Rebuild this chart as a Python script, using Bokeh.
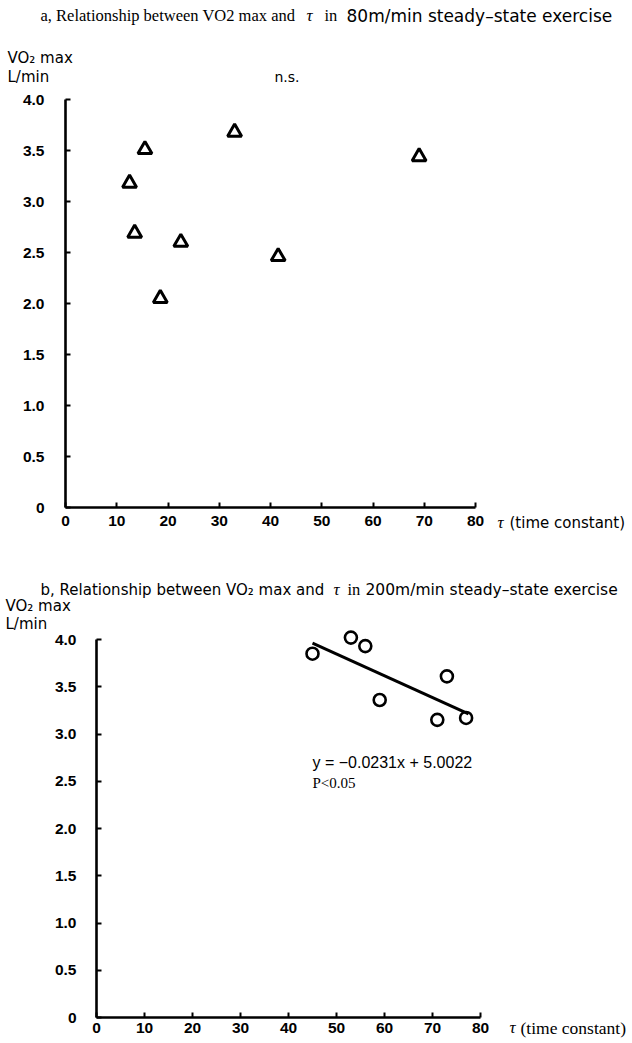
from bokeh.plotting import figure
from bokeh.models import Range1d, FixedTicker, Label, LinearAxis
from bokeh.layouts import column
from bokeh.embed import file_html
from bokeh.resources import INLINE

# ---------------- data ----------------
tau_80 = [12.5, 13.5, 15.5, 18.5, 22.5, 33.0, 41.5, 69.0]
vo2_80 = [3.18, 2.69, 3.51, 2.05, 2.60, 3.68, 2.46, 3.44]

tau_200 = [45.0, 53.0, 56.0, 59.0, 71.0, 73.0, 77.0]
vo2_200 = [3.85, 4.02, 3.93, 3.36, 3.15, 3.61, 3.17]

fit_slope = -0.0231
fit_intercept = 5.0022
fit_x = [45.0, 77.5]

x_ticks = [0, 10, 20, 30, 40, 50, 60, 70, 80]
y_ticks = [0, 0.5, 1.0, 1.5, 2.0, 2.5, 3.0, 3.5, 4.0]
y_tick_labels = ["0", "0.5", "1.0", "1.5", "2.0", "2.5", "3.0", "3.5", "4.0"]

SANS = "DejaVu Sans"
TICK_FONT = "Liberation Sans"
SERIF = "Liberation Serif"
PAGE_W = 632


class Panel:
    """A figure whose frame fills the canvas; page pixel -> data mapping."""

    def __init__(self, top, height, fx0, fx1, fy0, fy1, y_standoff, x_standoff):
        self.fx0, self.fx1, self.fy0, self.fy1 = fx0, fx1, fy0, fy1
        left, right = 0, PAGE_W
        bottom = top + height
        xr = Range1d(self.dx(left), self.dx(right))
        yr = Range1d(self.dy(bottom), self.dy(top))
        p = figure(width=PAGE_W, height=height, x_range=xr, y_range=yr,
                   x_axis_type=None, y_axis_type=None, min_border=0,
                   output_backend="svg", toolbar_location=None,
                   background_fill_color="white", border_fill_color="white")
        p.outline_line_color = None
        p.grid.visible = False
        xa = LinearAxis(ticker=FixedTicker(ticks=x_ticks), fixed_location=0,
                        bounds=(0, 80))
        ya = LinearAxis(ticker=FixedTicker(ticks=y_ticks), fixed_location=0,
                        bounds=(0, 4))
        ya.major_label_overrides = {t: s for t, s in zip(y_ticks, y_tick_labels)}
        for ax in (xa, ya):
            ax.axis_line_width = 2.6
            ax.axis_line_color = "black"
            ax.major_tick_in = 5
            ax.major_tick_out = 0
            ax.major_tick_line_width = 2
            ax.minor_tick_line_color = None
            ax.major_label_text_font = TICK_FONT
            ax.major_label_text_font_style = "bold"
            ax.major_label_text_font_size = "15.5px"
            ax.major_label_text_color = "black"
        ya.major_label_standoff = y_standoff
        xa.major_label_standoff = x_standoff
        p.add_layout(xa, "below")
        p.add_layout(ya, "left")
        self.p = p

    def dx(self, px):
        return (px - self.fx0) / (self.fx1 - self.fx0) * 80.0

    def dy(self, py):
        return (self.fy0 - py) / (self.fy0 - self.fy1) * 4.0

    def text(self, px, py, text, font=SANS, size=14, style="normal", align="left"):
        self.p.add_layout(Label(x=self.dx(px), y=self.dy(py), text=text,
                                text_font=font, text_font_size=f"{size}px",
                                text_font_style=style, text_align=align,
                                text_baseline="middle", text_color="black"))


# ---------------- chart a ----------------
A = Panel(top=0, height=556, fx0=65, fx1=475, fy0=507, fy1=99,
          y_standoff=21, x_standoff=8)
A.p.scatter(tau_80, vo2_80, marker="triangle", size=14, line_width=3,
            line_color="black", fill_color="white")
A.text(40, 15, "a, Relationship between VO2 max and", SERIF, 16.5)
A.text(306, 15, "\u03c4", SERIF, 17, "italic")
A.text(324, 15, "in", SERIF, 16.5)
A.text(346, 15, "80m/min steady\u2013state exercise", SANS, 17)
A.text(7, 57, "VO\u2082 max", SANS, 15)
A.text(7, 76, "L/min", SANS, 15)
A.text(274, 76, "n.s.", SANS, 14)
A.text(497, 522, "\u03c4", SERIF, 17, "italic")
A.text(509, 522, "(time constant)", SANS, 15)

# ---------------- chart b ----------------
B = Panel(top=556, height=484, fx0=96, fx1=480, fy0=1017, fy1=639,
          y_standoff=20, x_standoff=5)
B.p.scatter(tau_200, vo2_200, marker="circle", size=12, line_width=2.6,
            line_color="black", fill_color="white")
fit_y = [fit_slope * x + fit_intercept for x in fit_x]
B.p.line(fit_x, fit_y, line_width=3, line_color="black")
B.text(40, 589, "b, Relationship between VO\u2082 max and", SANS, 15)
B.text(333, 589, "\u03c4", SERIF, 17, "italic")
B.text(347, 589, "in", SERIF, 16.5)
B.text(365, 589, "200m/min steady\u2013state exercise", SANS, 15.5)
B.text(5, 605, "VO\u2082 max", SANS, 15)
B.text(5, 623, "L/min", SANS, 15)
B.text(509, 1027, "\u03c4", SERIF, 17, "italic")
B.text(520, 1027, "(time constant)", SERIF, 17.5)
B.text(312, 762, "y = \u22120.0231x + 5.0022", "Liberation Sans", 16)
B.text(312, 782, "P<0.05", SERIF, 15)

layout = column(A.p, B.p, spacing=0)
open("out.html", "w").write(file_html(layout, INLINE))
